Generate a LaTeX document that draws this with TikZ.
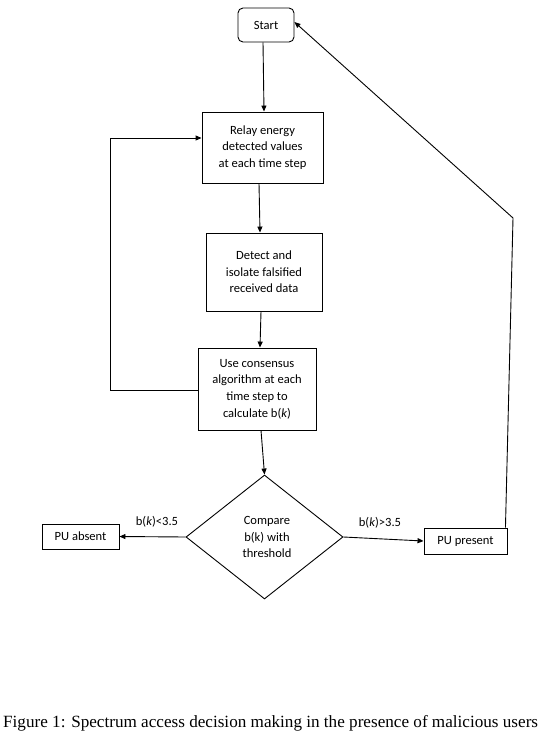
\documentclass[tikz,border=0pt]{standalone}
\usepackage{fontspec}
\setmainfont{Carlito}
\newfontfamily\capfont{Liberation Serif}
\usetikzlibrary{shapes.geometric,arrows.meta}
\begin{document}
\begin{tikzpicture}[x=1bp,y=-1bp,
  every node/.style={font=\fontsize{12.6}{16.7}\selectfont, align=center, inner sep=0pt},
  box/.style={draw, line width=0.9bp, minimum width=#1},
  arr/.style={line width=0.9bp, -{Triangle[length=6bp,width=5bp]}},
  ln/.style={line width=0.9bp}]
\useasboundingbox (0,0) rectangle (557,738);
\node[draw, line width=0.9bp, rounded corners=5bp, minimum width=56bp, minimum height=34bp] (start) at (266,25) {Start};
\node[box=121bp, minimum height=71bp] (relay) at (262.5,147.5) {Relay energy\\detected values\\at each time step};
\node[box=116bp, minimum height=78bp] (detect) at (264,272) {Detect and\\isolate falsified\\received data};
\node[box=118bp, minimum height=82bp] (cons) at (257,389) {Use consensus\\algorithm at each\\time step to\\calculate b(\textit{k})};
\node[draw, line width=0.9bp, diamond, aspect=1.27, minimum width=157bp, minimum height=124bp] (dec) at (264.5,537) {};
\node at (267,537) {Compare\\b(k) with\\threshold};
\node[box=77bp, minimum height=25bp] (abs) at (80.5,536.5) {PU absent};
\node[box=83bp, minimum height=26bp] (pres) at (465.5,541) {PU present};
\node (lt) at (157,522) {b(\textit{k})<3.5};
\node (gt) at (380,523) {b(\textit{k})>3.5};
\coordinate (c1) at (110,390);
\coordinate (c2) at (110,138);
\coordinate (c3) at (513,218);
\draw[arr] ([xshift=-3bp]start.south) -- ([xshift=1.5bp]relay.north);
\draw[arr] ([xshift=-3.5bp]relay.south) -- ([xshift=-4bp]detect.north);
\draw[arr] ([xshift=-3bp]detect.south) -- ([xshift=3bp]cons.north);
\draw[arr] ([xshift=4bp]cons.south) -- (dec.north);
\draw[arr] (dec.west) -- (abs.east);
\draw[arr] (dec.east) -- (pres.west);
\draw[ln, -{Triangle[length=6bp,width=5bp]}] (cons.west |- c1) -- (c1) -- (c2) -- (c2 -| relay.west);
\draw[arr] ([xshift=-0.5bp, yshift=0bp]pres.north east) ++(-1.5bp,0) -- (c3) -- ([yshift=3bp]start.east);
\node[font=\capfont\fontsize{17.2}{19}\selectfont, anchor=west] (cap) at (3,723) {Figure 1: Spectrum access decision making in the presence of malicious users};
\end{tikzpicture}
\end{document}
